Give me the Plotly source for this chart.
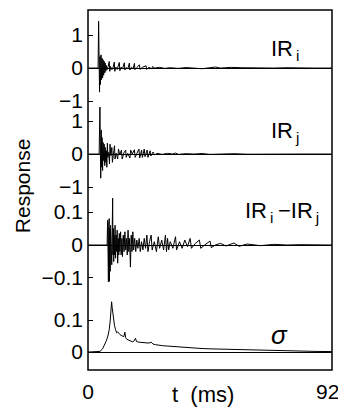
import plotly.graph_objects as go

# ---------------- data ----------------
t_ir_i = [0, 3.8, 4.0, 4.2, 4.35, 4.5, 4.7, 4.9, 5.1, 5.3, 5.5, 5.7, 5.9, 6.1, 6.3, 6.5, 6.7, 6.9, 7.2, 7.6,
          8.0, 8.2, 8.5, 9.0, 9.5, 9.9, 10.1, 10.5, 11.0, 11.8, 12.0, 12.5, 13.0, 13.7, 13.9, 14.5, 15.0,
          15.6, 15.8, 16.4, 17.0, 17.5, 17.7, 18.5, 19.4, 19.6, 20.5, 21.9, 22.1, 23.0, 24.0, 24.4, 25.0,
          27, 29, 31, 34, 37, 40, 43, 46, 48, 50, 54, 58, 62, 66, 70, 75, 80, 85, 92]
ir_i = [0, 0, 1.42, -0.2, -0.73, 0.35, -0.5, 0.4, -0.35, 0.3, -0.3, 0.25, -0.22, 0.2, -0.15, 0.15, -0.1, 0.08, -0.05, 0.05,
        0.2, -0.1, 0.05, -0.05, 0.03, 0.18, -0.1, 0.03, -0.04, 0.17, -0.08, 0.03, -0.03, 0.16, -0.06, 0.02, -0.03,
        0.15, -0.06, 0.02, -0.02, 0.14, -0.05, 0.02, 0.1, -0.04, 0.02, 0.07, -0.04, 0.02, -0.02, 0.05, 0.0,
        0.02, -0.01, 0.01, -0.01, 0.015, 0.0, -0.02, 0.01, 0.03, 0.0, 0.02, 0.01, 0.0, -0.01, 0.0, 0.01, -0.005, 0.0, 0.0]

t_ir_j = [0, 4.2, 4.5, 4.65, 4.8, 5.0, 5.15, 5.3, 5.5, 5.7, 5.9, 6.1, 6.3, 6.5, 6.7, 6.9, 7.1, 7.3, 7.5, 7.8,
          8.1, 8.3, 8.6, 9.0, 9.2, 9.6, 10.0, 10.2, 10.6, 11.2, 11.5, 12.0, 12.6, 12.9, 13.5, 14.2, 14.4, 15.0,
          15.8, 16.1, 16.7, 17.5, 17.8, 18.5, 19.2, 19.5, 20.2, 20.5, 21.2, 21.5, 22.3, 22.6, 23.4, 23.7, 24.5,
          25.2, 26, 28, 30, 32, 33, 34, 37, 40, 43, 46, 50, 55, 60, 65, 70, 80, 92]
ir_j = [0, 0, 1.42, -0.3, -0.73, 0.73, -0.4, 0.5, -0.5, 0.35, -0.2, 0.3, -0.35, 0.2, -0.25, 0.1, -0.4, 0.33, -0.1, 0.05,
        -0.3, 0.3, -0.05, 0.2, -0.25, 0.05, 0.25, -0.15, 0.03, -0.15, 0.15, -0.03, 0.12, -0.15, 0.03, 0.12, -0.1, 0.02,
        -0.12, 0.12, 0.0, 0.13, -0.1, 0.03, 0.15, -0.12, 0.12, -0.1, 0.15, -0.08, 0.12, -0.1, 0.1, -0.06, 0.06,
        -0.03, 0.02, -0.01, 0.02, 0.0, 0.03, -0.01, 0.01, 0.0, 0.015, -0.01, 0.0, 0.01, -0.005, 0.0, 0.01, 0.0, 0.0]

t_diff = [0, 7.2, 7.4, 7.5, 7.6, 7.7, 7.8, 7.9, 8.0, 8.1, 8.2, 8.35, 8.5, 8.65, 8.8, 8.95, 9.1, 9.3, 9.4, 9.55,
          9.7, 9.85, 10.0, 10.2, 10.4, 10.6, 10.8, 11.0, 11.2, 11.4, 11.6, 11.8, 12.0, 12.3, 12.5, 12.8, 13.0,
          13.3, 13.6, 13.9, 14.2, 14.5, 14.8, 15.1, 15.4, 15.7, 16.0, 16.3, 16.6, 16.9, 17.2, 17.6, 18.0, 18.4,
          18.8, 19.3, 19.7, 20.2, 20.7, 21.2, 21.7, 22.2, 22.6, 23.2, 23.8, 24.2, 25.0, 25.8, 26.5, 27.0, 27.8,
          28.5, 29.2, 29.6, 30.0, 30.4, 31.0, 32.0, 33.0, 33.4, 34.5, 35.5, 36.5, 37.5, 38.5, 39.0, 40.5, 42.0,
          42.5, 44.0, 46.0, 46.5, 48.0, 50.0, 52.0, 55.0, 57, 60, 65, 70, 75, 80, 92]
ir_diff = [0, 0, 0.075, -0.09, 0.07, -0.112, 0.06, -0.05, 0.08, -0.11, 0.05, -0.08, 0.06, -0.04, 0.04, -0.06, 0.03, 0.142, -0.03, 0.05,
           -0.05, 0.03, -0.03, 0.06, -0.04, 0.03, -0.02, 0.045, -0.055, 0.02, -0.03, 0.035, -0.02, 0.04, -0.03, 0.02, -0.035,
           0.03, -0.02, 0.04, -0.015, 0.02, -0.03, 0.045, -0.02, 0.02, -0.067, 0.03, -0.02, 0.04, -0.015, 0.02, -0.02, 0.015,
           -0.01, 0.02, -0.02, 0.01, -0.015, 0.02, -0.01, 0.03, -0.02, 0.01, 0.03, -0.015, 0.01, -0.02, 0.025, -0.01, 0.015,
           -0.015, 0.03, -0.02, 0.02, -0.015, 0.01, -0.01, 0.025, -0.015, 0.01, -0.01, 0.015, -0.005, 0.02, -0.01, 0.005, 0.015,
           -0.01, 0.0, 0.012, -0.008, 0.0, 0.005, -0.003, 0.006, -0.004, 0.003, -0.002, 0.002, 0.0, 0.001, 0.0]

t_sigma = [0, 3, 4.5, 5.5, 6.2, 6.9, 7.5, 8.0, 8.4, 8.7, 8.9, 9.1, 9.4, 9.7, 10.0, 10.4, 10.8, 11.2, 11.6, 12.0,
           12.5, 13.0, 13.5, 13.9, 14.2, 14.6, 15.0, 15.6, 16.2, 16.8, 17.4, 17.9, 18.3, 19.0, 19.8, 20.6, 21.4,
           22.2, 23.0, 23.8, 24.5, 25.5, 26.5, 28, 29.5, 31, 33, 35, 37, 39, 41, 43, 46, 50, 54, 58, 62, 66, 70,
           74, 78, 82, 86, 92]
sigma = [0, 0, 0.002, 0.01, 0.022, 0.035, 0.05, 0.07, 0.1, 0.135, 0.157, 0.14, 0.115, 0.095, 0.082, 0.07, 0.06, 0.063, 0.057, 0.055,
         0.052, 0.05, 0.048, 0.062, 0.045, 0.04, 0.038, 0.036, 0.034, 0.032, 0.035, 0.043, 0.033, 0.031, 0.03, 0.03, 0.028,
         0.027, 0.028, 0.031, 0.025, 0.023, 0.021, 0.02, 0.019, 0.018, 0.016, 0.015, 0.014, 0.013, 0.012, 0.011, 0.01, 0.009,
         0.008, 0.007, 0.006, 0.005, 0.0045, 0.004, 0.003, 0.0025, 0.002, 0.0015]

x_tickvals = [0, 92]
x_ticktext = ["0", "92\u2009\u2009"]
y1_ticks = [-1, 0, 1]
y1_text = ["\u22121", "0", "1"]
y2_ticks = [-1, 0, 1]
y2_text = ["\u22121", "0", "1"]
y3_ticks = [-0.1, 0, 0.1]
y3_text = ["\u22120.1", "0", "0.1"]
y4_ticks = [0, 0.1]
y4_text = ["0", "0.1"]
panel_labels = ["IR<sub>\u2009i</sub>", "IR<sub>\u2009j</sub>",
                "IR<sub>\u2009i</sub>\u2009\u2212IR<sub>\u2009j</sub>", "<i>\u03c3</i>"]

FONT = "Liberation Sans, Arial, Helvetica, sans-serif"

fig = go.Figure()
line = dict(color="black", width=1)
fig.add_trace(go.Scatter(x=t_ir_i, y=ir_i, xaxis="x", yaxis="y", mode="lines", line=line))
fig.add_trace(go.Scatter(x=t_ir_j, y=ir_j, xaxis="x", yaxis="y2", mode="lines", line=line))
fig.add_trace(go.Scatter(x=t_diff, y=ir_diff, xaxis="x", yaxis="y3", mode="lines", line=line))
fig.add_trace(go.Scatter(x=t_sigma, y=sigma, xaxis="x", yaxis="y4", mode="lines", line=line))

def yax(domain, rng, tv, tt):
    return dict(domain=domain, range=rng, anchor="x", tickvals=tv, ticktext=tt,
                ticks="inside", ticklen=5, tickwidth=1, tickcolor="black",
                showgrid=False, showline=False, zeroline=True, zerolinecolor="black",
                zerolinewidth=1, ticklabelstandoff=4,
                tickfont=dict(family=FONT, size=21, color="black"))

# the page body has an 8px margin; the plot frame is placed at page x 88..332, y 10..370
fig.update_layout(
    width=346, height=410,
    margin=dict(l=80, r=22, t=2, b=48),
    paper_bgcolor="white", plot_bgcolor="white",
    showlegend=False,
    font=dict(family=FONT, color="black"),
    xaxis=dict(domain=[0, 1], range=[0, 92], anchor="y4", tickvals=x_tickvals, ticktext=x_ticktext,
               ticks="", showgrid=False, showline=False, zeroline=False, ticklabelstandoff=7,
               tickfont=dict(family=FONT, size=21, color="black")),
    yaxis=yax([0.7389, 1.0], [-1.09, 1.76], y1_ticks, y1_text),
    yaxis2=yax([0.4944, 0.7389], [-1.15, 1.515], y2_ticks, y2_text),
    yaxis3=yax([0.2167, 0.4944], [-0.1424, 0.1606], y3_ticks, y3_text),
    yaxis4=yax([0.0, 0.2167], [-0.056, 0.1875], y4_ticks, y4_text),
    shapes=[dict(type="rect", xref="paper", yref="paper", x0=0, x1=1, y0=0, y1=1,
                 line=dict(color="black", width=1.5))],
)

anns = [
    dict(text="Response", x=-0.27, y=0.511, textangle=-90, font_size=21),
    dict(text="t  (ms)", x=0.47, y=-0.068, font_size=22),
    dict(text=panel_labels[0], x=0.81, y=0.89, font_size=22),
    dict(text=panel_labels[1], x=0.81, y=0.662, font_size=22),
    dict(text=panel_labels[2], x=0.795, y=0.44, font_size=22),
    dict(text=panel_labels[3], x=0.783, y=0.097, font_size=26),
]
for a in anns:
    fig.add_annotation(xref="paper", yref="paper", showarrow=False,
                       xanchor="center", yanchor="middle",
                       font=dict(family=FONT, color="black", size=a.pop("font_size")), **a)

fig.write_html("out.html")
